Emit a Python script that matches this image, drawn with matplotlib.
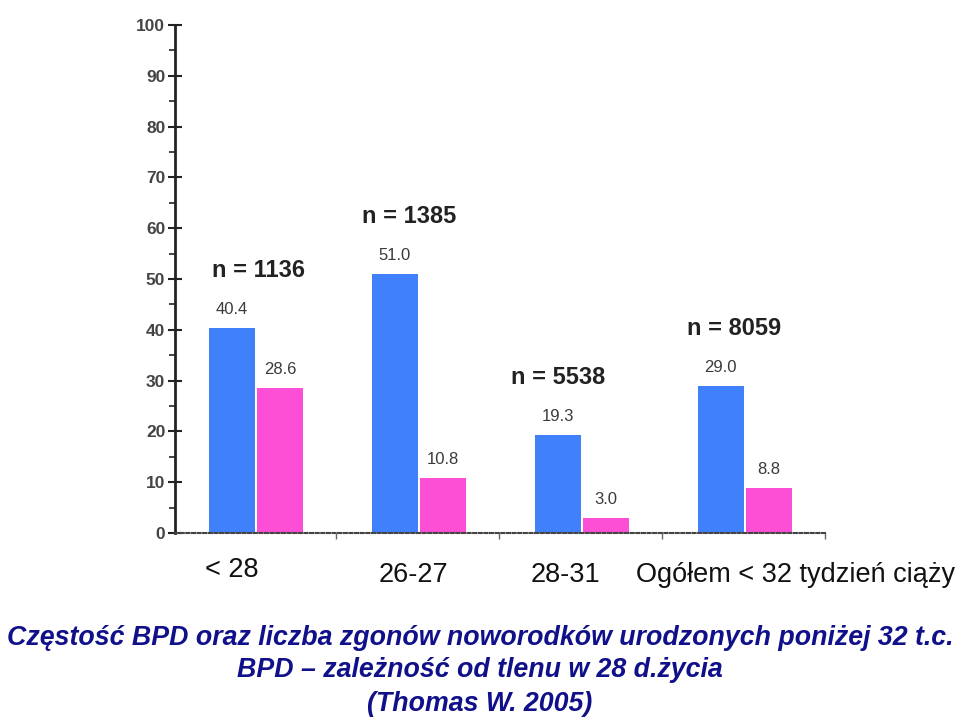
#!/usr/bin/env python3
import matplotlib
matplotlib.use('Agg')
import matplotlib.pyplot as plt
import numpy as np

plt.rcParams['font.family'] = ['Liberation Sans', 'DejaVu Sans']

# data
groups = ['< 28', '26-27', '28-31', 'Ogółem < 32 tydzień ciąży']
bpd = [40.4, 51.0, 19.3, 29.0]        # blue bars
deaths = [28.6, 10.8, 3.0, 8.8]       # pink bars
counts = ['n = 1136', 'n = 1385', 'n = 5538', 'n = 8059']
titles = ['Częstość BPD oraz liczba zgonów noworodków urodzonych poniżej 32 t.c.',
          'BPD – zależność od tlenu w 28 d.życia',
          '(Thomas W. 2005)']

blue = '#4180fb'
pink = '#fd4fd6'
navy = '#10108a'
grey = '#3a3a3a'

W, H = 960, 723
fig = plt.figure(figsize=(W/100, H/100), dpi=100)
ax = fig.add_axes([175/W, 1-533/H, 650/W, 508/H])

x = np.arange(len(groups))
bw = 0.28
xb = x - 0.14
xp = x + 0.155
ax.bar(xb, bpd, width=bw, color=blue, edgecolor='none', zorder=2)
ax.bar(xp, deaths, width=bw, color=pink, edgecolor='none', zorder=2)

for xs, vals in ((xb, bpd), (xp, deaths)):
  for xi, v in zip(xs, vals):
    ax.annotate(f'{v:.1f}', (xi, v), xytext=(0, 10), textcoords='offset points',
                ha='center', va='baseline', fontsize=12, color=grey)

n_dx = [0.16, 0.09, 0.0, 0.08]
for xi, v, lab, d in zip(xb, bpd, counts, n_dx):
  ax.text(xi + d, v + 11.3, lab, ha='center', va='center', fontsize=17,
          fontweight='bold', color='#222222')

ax.set_xlim(-0.49, 3.5)
ax.set_ylim(0, 100)
ax.set_yticks(np.arange(0, 101, 10))
ax.set_yticks(np.arange(5, 100, 10), minor=True)
ax.set_xticks([0.5, 1.5, 2.5, 3.5])
ax.set_xticklabels([])
ax.tick_params(axis='y', which='major', direction='inout', length=10, width=1.5,
               color='#222222', labelsize=12.5, labelcolor='#444444', pad=2)
ax.tick_params(axis='y', which='minor', direction='out', length=4, width=1.2, color='#222222')
ax.tick_params(axis='x', direction='out', length=4, width=1, color='#666666')
for lab in ax.get_yticklabels():
  lab.set_fontweight('bold')

for s in ('top', 'right'):
  ax.spines[s].set_visible(False)
ax.spines['left'].set_linewidth(2)
ax.spines['left'].set_color('#222222')
ax.spines['bottom'].set_linewidth(1.5)
ax.spines['bottom'].set_color('#444444')
ax.spines['bottom'].set_linestyle((0, (1.5, 1.2)))

# category labels under the axis
cat_x = [232, 413, 565, 796]
cat_y = [570, 575, 575, 575]
for lab, cx, cy in zip(groups, cat_x, cat_y):
  fig.text(cx/W, 1-cy/H, lab, ha='center', va='center', fontsize=19.5, color='#111111')

# caption
for t, ty in zip(titles, [638, 670, 704]):
  fig.text(480/W, 1-ty/H, t, ha='center', va='center', fontsize=19.3,
           fontweight='bold', fontstyle='italic', color=navy)

plt.savefig('out.png', dpi=100)
plt.close()
